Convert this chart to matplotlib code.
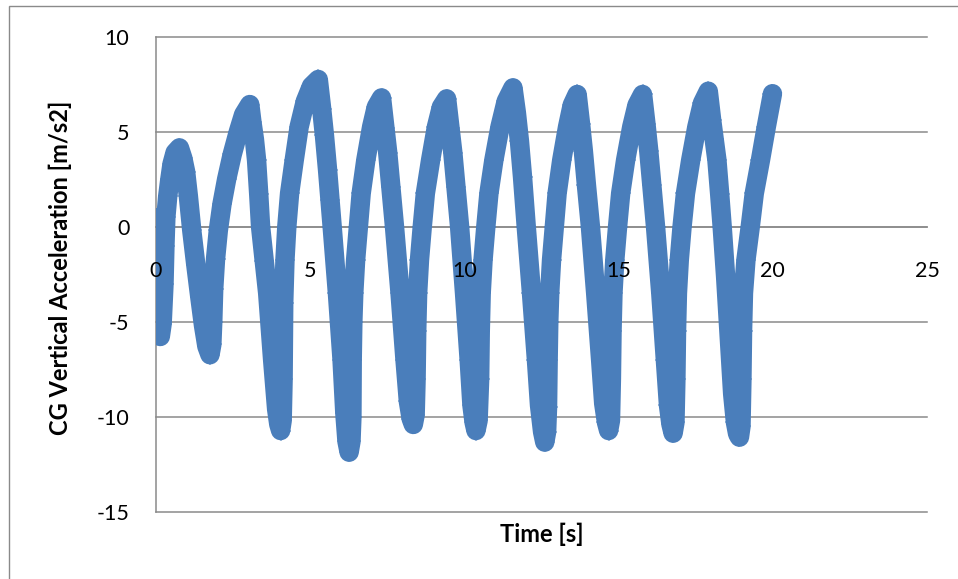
import matplotlib
matplotlib.use("Agg")
import matplotlib.pyplot as plt
from matplotlib.patches import Rectangle

# values, one row per half swing
time_s = [
    0.00, 0.04, 0.08, 0.12, 0.15, 0.21, 0.27, 0.30, 0.33, 0.39, 0.46, 0.53, 0.63, 0.77,
    0.88, 0.97, 1.06, 1.17, 1.30, 1.43, 1.55, 1.66, 1.76,
    1.82, 1.85, 1.88, 1.94, 2.03, 2.15, 2.30, 2.48, 2.68, 2.85, 3.05,
    3.12, 3.20, 3.27, 3.34, 3.40, 3.52, 3.63, 3.79, 3.92, 3.99, 4.05,
    4.10, 4.13, 4.14, 4.15, 4.19, 4.25, 4.34, 4.49, 4.65, 4.85, 5.05, 5.27,
    5.38, 5.47, 5.57, 5.65, 5.72, 5.89, 6.04, 6.13, 6.20, 6.27,
    6.33, 6.36, 6.37, 6.39, 6.42, 6.48, 6.57, 6.66, 6.81, 7.00, 7.15, 7.32,
    7.43, 7.52, 7.62, 7.74, 7.92, 8.08, 8.19, 8.28, 8.35,
    8.41, 8.44, 8.46, 8.49, 8.55, 8.64, 8.74, 8.91, 9.10, 9.26, 9.43,
    9.54, 9.63, 9.73, 9.85, 10.01, 10.16, 10.25, 10.32, 10.38,
    10.45, 10.50, 10.52, 10.55, 10.61, 10.70, 10.80, 10.96, 11.16, 11.36, 11.58,
    11.69, 11.79, 11.89, 12.01, 12.18, 12.34, 12.44, 12.54, 12.61,
    12.67, 12.70, 12.72, 12.74, 12.77, 12.83, 12.92, 13.01, 13.16, 13.35, 13.50, 13.66,
    13.77, 13.86, 13.96, 14.09, 14.26, 14.42, 14.52, 14.61, 14.68,
    14.74, 14.77, 14.79, 14.82, 14.88, 14.97, 15.07, 15.23, 15.43, 15.60, 15.78,
    15.89, 15.98, 16.08, 16.20, 16.37, 16.52, 16.62, 16.70, 16.77,
    16.83, 16.86, 16.88, 16.91, 16.97, 17.06, 17.17, 17.34, 17.54, 17.72, 17.91,
    18.02, 18.10, 18.19, 18.28, 18.36, 18.47, 18.57, 18.70, 18.79, 18.86, 18.92,
    18.97, 19.00, 19.02, 19.05, 19.13, 19.27, 19.40, 19.60, 19.79, 19.99,
]
accel = [
    0.47, -1.4, -3.4, -5.0, -5.78, -5.1, -3.0, -1.0, 0.5, 1.6, 2.5, 3.3, 3.9, 4.15,
    3.6, 2.9, 1.6, -0.2, -2.0, -3.7, -5.2, -6.3, -6.74,
    -6.2, -5.0, -3.3, -1.7, -0.2, 1.2, 2.5, 3.8, 5.0, 5.9, 6.43,
    5.5, 4.6, 3.5, 1.7, 0.0, -1.8, -3.5, -7.0, -9.6, -10.4, -10.73,
    -10.2, -8.0, -6.0, -4.0, -1.75, 0.0, 1.75, 3.5, 5.26, 6.6, 7.4, 7.75,
    6.2, 4.8, 3.0, 1.4, 0.0, -3.5, -7.0, -9.8, -11.3, -11.87,
    -11.3, -10.0, -7.0, -5.0, -3.5, -1.75, 0.0, 1.75, 3.5, 5.26, 6.3, 6.78,
    5.2, 3.9, 2.1, 0.0, -3.5, -7.0, -9.2, -10.1, -10.41,
    -9.9, -8.0, -5.5, -3.5, -1.75, 0.0, 1.75, 3.5, 5.26, 6.3, 6.73,
    5.2, 3.9, 2.1, 0.0, -3.5, -7.0, -9.4, -10.3, -10.73,
    -10.2, -8.0, -5.5, -3.5, -1.75, 0.0, 1.75, 3.5, 5.26, 6.6, 7.31,
    6.0, 4.5, 2.6, 0.0, -3.5, -7.0, -9.4, -10.8, -11.34,
    -10.8, -9.5, -7.0, -5.0, -3.5, -1.75, 0.0, 1.75, 3.5, 5.26, 6.4, 6.96,
    5.4, 4.0, 2.2, 0.0, -3.5, -7.0, -9.3, -10.3, -10.73,
    -10.2, -8.0, -5.5, -3.5, -1.75, 0.0, 1.75, 3.5, 5.26, 6.4, 6.96,
    5.4, 4.0, 2.2, 0.0, -3.5, -7.0, -9.4, -10.4, -10.87,
    -10.3, -8.0, -5.5, -3.5, -1.75, 0.0, 1.75, 3.5, 5.26, 6.5, 7.13,
    5.6, 4.6, 3.5, 1.7, 0.0, -2.6, -5.3, -8.8, -10.3, -10.9, -11.08,
    -10.5, -8.0, -5.5, -3.5, -1.75, 0.0, 1.75, 3.5, 5.26, 7.0,
]

x_ticks = [0, 5, 10, 15, 20, 25]
y_ticks = [-15, -10, -5, 0, 5, 10]

plt.rcParams['font.family'] = ['Lato', 'DejaVu Sans']
plt.rcParams['axes.unicode_minus'] = False

blue = '#4a7ebb'
grey = '#8a8a8a'

fig = plt.figure(figsize=(9.58, 5.79), dpi=100)
ax = fig.add_axes([0.1625, 0.1163, 0.8052, 0.8203])
ax.set_axisbelow(False)  # tick labels sit on top of the series, like Excel

# gridlines behind the series
for yv in y_ticks:
    ax.axhline(yv, color=grey, lw=1.1, zorder=0.5, clip_on=False)

ax.plot(time_s, accel, color=blue, lw=14, solid_joinstyle='round',
        solid_capstyle='round', marker='D', ms=10.2, mfc=blue, mec=blue, mew=0,
        zorder=2)

ax.set_xlim(0, 25)
ax.set_ylim(-15, 10)
ax.set_xticks(x_ticks)
ax.set_yticks(y_ticks)

ax.spines['bottom'].set_position(('data', 0))
ax.spines['top'].set_visible(False)
ax.spines['right'].set_visible(False)
for s in ['bottom', 'left']:
    ax.spines[s].set_color(grey)
    ax.spines[s].set_linewidth(1.1)
    ax.spines[s].set_zorder(0.6)

ax.tick_params(length=0, labelsize=15.5, colors='black')
ax.tick_params(axis='x', pad=25)
ax.tick_params(axis='y', pad=19)

ax.set_xlabel('Time [s]', fontweight='bold', fontsize=17)
ax.xaxis.set_label_coords(0.5, -0.024)
ax.set_ylabel('CG Vertical Acceleration [m/s2]', fontweight='bold', fontsize=17)
ax.yaxis.set_label_coords(-0.108, 0.513)

# outer chart frame (only top and left edges fall inside the picture)
fig.add_artist(Rectangle((9 / 958, -0.1), 1.2, 1.0888, transform=fig.transFigure,
                         fill=False, ec=grey, lw=1.0))

fig.savefig('out.png', dpi=100)
